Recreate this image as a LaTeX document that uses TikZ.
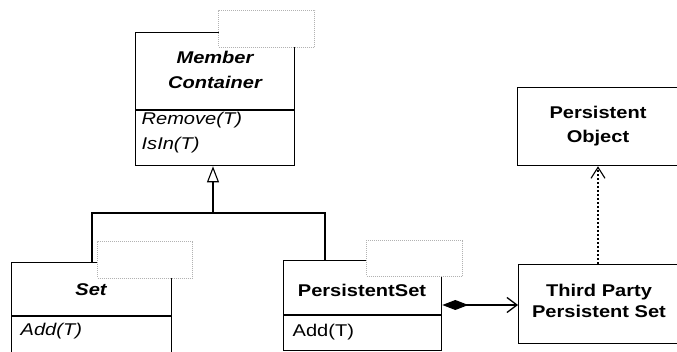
\documentclass[tikz,border=0pt]{standalone}
\usepackage{fontspec}
\setmainfont{Liberation Sans}[FakeStretch=1.18]
\usetikzlibrary{arrows.meta,calc}
\begin{document}
\begin{tikzpicture}[x=1pt,y=-1pt,line width=1.3pt,
  cls/.style={draw,rectangle,anchor=north west,inner sep=0pt},
  tmpl/.style={draw=gray!60,fill=white,densely dotted,line width=1pt,rectangle,anchor=north west,inner sep=0pt},
  lbl/.style={font=\fontsize{17}{24}\selectfont,inner sep=0pt,align=center},
  op/.style={font=\fontsize{17}{24}\selectfont,inner sep=0pt,anchor=west},
  dep/.style={dash pattern=on 2pt off 2pt,line width=1.1pt}]
\useasboundingbox (0,0) rectangle (677,352);
\clip (0,0) rectangle (677,352);
% class boxes
\node[cls,minimum width=159pt,minimum height=133pt] (mc) at (135,32) {};
\node[cls,minimum width=160pt,minimum height=110pt] (setb) at (11,262) {};
\node[cls,minimum width=158pt,minimum height=90pt] (ps) at (283,260) {};
\node[cls,minimum width=164pt,minimum height=79pt] (tp) at (518,264) {};
\node[cls,minimum width=164pt,minimum height=78pt] (po) at (517,87) {};
% compartments
\draw (mc.west |- 0,110) -- (mc.east |- 0,110);
\draw (setb.west |- 0,316) -- (setb.east |- 0,316);
\draw (ps.west |- 0,315) -- (ps.east |- 0,315);
% template parameter boxes
\node[tmpl,minimum width=96pt,minimum height=37pt] (mct) at (218,10) {};
\node[tmpl,minimum width=95pt,minimum height=37pt] (sett) at (97,241) {};
\node[tmpl,minimum width=96pt,minimum height=36pt] (pst) at (366,240) {};
% texts
\node[lbl,font=\fontsize{17}{25}\selectfont\bfseries\itshape] (mcname) at (215,70) {Member\\Container};
\node[op,font=\fontsize{17}{24}\selectfont\itshape] (rem) at (141,120) {Remove(T)};
\node[op,font=\fontsize{17}{24}\selectfont\itshape] (isin) at (141,145) {IsIn(T)};
\node[lbl,font=\fontsize{17}{24}\selectfont\bfseries\itshape] (setname) at (91,290) {Set};
\node[op,font=\fontsize{17}{24}\selectfont\itshape] (setadd) at (20,331) {Add(T)};
\node[lbl,font=\fontsize{17}{24}\selectfont\bfseries] (psname) at (362,290) {PersistentSet};
\node[op] (psadd) at (292,332) {Add(T)};
\node[lbl,font=\fontsize{17}{21}\selectfont\bfseries] (tpname) at (599,301) {Third Party\\Persistent Set};
\node[lbl,font=\fontsize{17}{24}\selectfont\bfseries] (poname) at (598,126) {Persistent\\Object};
% generalization
\coordinate (bus) at (213,213);
\coordinate (setconn) at ($(setb.north west)+(81,0)$);
\coordinate (psconn) at ($(ps.north west)+(42,0)$);
\draw (setconn) |- (bus) -| (psconn);
\draw[-{Triangle[open,width=12pt,length=16pt,line width=1.1pt]}] (bus) -- (bus |- mc.south);
% composition
\draw[{Diamond[length=26pt,width=10pt]}-{Straight Barb[length=10pt,width=15pt]}] (ps.east |- 0,305) -- (tp.west |- 0,305);
% dependency
\draw[dep,-{Straight Barb[length=11pt,width=14pt,line width=1.1pt]}] ($(tp.north west)+(80,0)$) -- ($(po.south west)+(81,0)$);
\end{tikzpicture}
\end{document}
